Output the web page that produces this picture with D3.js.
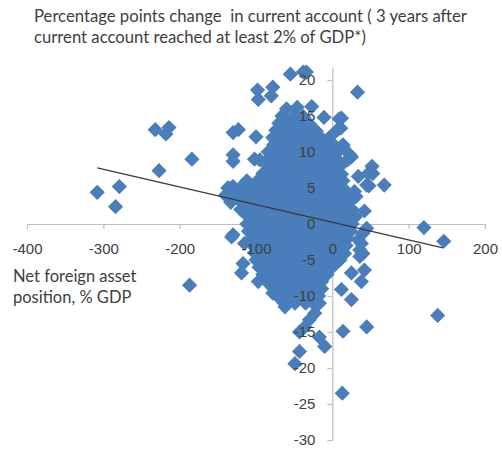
<!DOCTYPE html>
<html>
<head>
<meta charset="utf-8">
<script src="https://cdn.jsdelivr.net/npm/d3@7"></script>
<style>
  body { margin: 0; background: #fff; }
</style>
</head>
<body>
<div id="chart"></div>
<script>
const titleLines = [
  "Percentage points change  in current account ( 3 years after",
  "current account reached at least 2% of GDP*)"
];
const xTitleLines = ["Net foreign asset", "position, % GDP"];

const xTicks = [-400, -300, -200, -100, 0, 100, 200];
const yTicks = [20, 15, 10, 5, 0, -5, -10, -15, -20, -25, -30];

// scattered points around the main cloud: [net foreign assets, change in CA]
const outliers = [
  [-308, 4.4], [-279, 5.2], [-284, 2.4], [-232, 13.1], [-214, 13.4], [-218, 12.5],
  [-227, 7.4], [-184, 9.0], [-187, -8.5],
  [-130, 12.7], [-123, 13.1], [-130, 9.6], [-130, 8.7], [-100, 12.1],
  [-98, 18.6], [-97, 17.3], [-78, 19.0], [-80, 17.8], [-102, 9.0], [-95, 8.9], [-82, 7.5],
  [-55, 20.8], [-38, 21.1], [-34, 21.1], [33, 18.3],
  [-27, 16.3], [-11, 14.8], [9, 14.6], [6, 13.0], [14, 11.0], [12, 14.7], [11, 13.3],
  [14, 10.7], [25, 9.3], [23, 9.6], [20, 8.9], [52, 8.0], [53, 7.0], [47, 7.0], [34, 6.6],
  [48, 5.3], [45, 5.4], [68, 5.4], [29, 4.5], [31, 3.8], [27, 3.6], [42, 1.8],
  [120, -0.5], [146, -2.4],
  [40, -1.3], [38, -2.7], [40, -4.1], [34, -2.2], [36, -3.6], [36, -4.5], [45, -0.6],
  [16, -4.1], [10, -5.0], [25, -6.8], [42, -6.4], [38, -8.0], [12, -9.1], [25, -10.5],
  [138, -12.7], [14, -14.9], [45, -14.3], [13, -23.5],
  [-17, -11.0], [-23, -12.4], [-30, -13.3], [-36, -14.3], [-43, -15.0], [-17, -15.7],
  [-10, -17.0], [-43, -17.7], [-49, -19.4], [-67, -10.5], [-56, -10.5], [-62, -11.5],
  [-132, -1.8], [-117, -5.5], [-119, -6.8], [-97, -8.0], [-78, -9.6],
  [-130, 5.2], [-119, 5.2], [-113, 2.9], [-130, -1.5], [-115, -2.7]
];

// the dense core of the cloud, read row by row
const cluster = [
  [-60, 16], [-46, 16.2],
  [-66, 15], [-49, 15.1], [-38, 14.9],
  [-70, 14], [-56, 14.1], [-42, 14], [-30, 13.9],
  [-74, 13], [-63, 13], [-49, 13.1], [-35, 13], [-21, 12.9],
  [-78, 12], [-70, 12], [-56, 12.1], [-42, 12], [-28, 12], [-14, 11.9], [-4, 12],
  [-77, 11], [-63, 11], [-49, 11.1], [-35, 11], [-21, 11], [-7, 10.9], [2, 11],
  [-84, 10], [-70, 10], [-56, 10], [-42, 10.1], [-28, 10], [-14, 10], [0, 10], [6, 9.9],
  [-84, 9], [-77, 9], [-63, 9], [-49, 9.1], [-35, 9], [-21, 9], [-7, 9], [7, 8.9],
  [-84, 8], [-70, 8], [-56, 8], [-42, 8], [-28, 8.1], [-14, 8], [0, 8], [10, 8],
  [-91, 7], [-77, 7], [-63, 7], [-49, 7], [-35, 7], [-21, 7.1], [-7, 7], [7, 7], [12, 6.9],
  [-112, 6], [-98, 6], [-84, 6], [-70, 6.1], [-56, 6], [-42, 6], [-28, 6], [-14, 6], [0, 6], [14, 6],
  [-137, 5], [-133, 5], [-119, 5], [-105, 5], [-91, 5], [-77, 5], [-63, 5.1], [-49, 5],
  [-35, 5], [-21, 5], [-7, 5], [7, 5], [14, 5],
  [-140, 4], [-126, 4], [-112, 4], [-98, 4], [-84, 4.1], [-70, 4], [-56, 4], [-42, 4],
  [-28, 4], [-14, 4], [0, 4], [14, 4], [18, 4.1],
  [-133, 3], [-119, 3], [-105, 3], [-91, 3], [-77, 3], [-63, 3], [-49, 3.1], [-35, 3],
  [-21, 3], [-7, 3], [7, 3], [21, 3],
  [-120, 2], [-112, 2], [-98, 2], [-84, 2], [-70, 2], [-56, 2], [-42, 2.1], [-28, 2],
  [-14, 2], [0, 2], [14, 2], [26, 2],
  [-110, 1], [-105, 1], [-91, 1], [-77, 1], [-63, 1], [-49, 1], [-35, 1], [-21, 1.1],
  [-7, 1], [7, 1], [21, 1], [30, 1],
  [-112, 0], [-98, 0], [-84, 0], [-70, 0], [-56, 0.1], [-42, 0], [-28, 0], [-14, 0],
  [0, 0], [14, 0], [26, 0],
  [-110, -1], [-105, -1], [-91, -1], [-77, -1], [-63, -1], [-49, -1], [-35, -0.9],
  [-21, -1], [-7, -1], [7, -1], [21, -1], [24, -1],
  [-106, -2], [-98, -2], [-84, -2], [-70, -2], [-56, -2], [-42, -2], [-28, -2],
  [-14, -2.1], [0, -2], [14, -2], [20, -2],
  [-104, -3], [-91, -3], [-77, -3], [-63, -3], [-49, -3], [-35, -3], [-21, -3],
  [-7, -3], [7, -3], [18, -3],
  [-102, -4], [-98, -4], [-84, -4], [-70, -4], [-56, -4], [-42, -4], [-28, -4.1],
  [-14, -4], [0, -4], [12, -4],
  [-100, -5], [-91, -5], [-77, -5], [-63, -5], [-49, -5], [-35, -5], [-21, -5], [-7, -5], [6, -5],
  [-96, -6], [-84, -6], [-70, -6], [-56, -6], [-42, -6], [-28, -6], [-14, -6], [0, -6],
  [-91, -7], [-77, -7], [-63, -7], [-49, -7], [-35, -7], [-21, -7], [-7, -7],
  [-86, -8], [-70, -8], [-56, -8], [-42, -8], [-28, -8], [-14, -8],
  [-77, -9], [-63, -9], [-49, -9], [-35, -9], [-21, -9], [-14, -9],
  [-72, -10], [-56, -10], [-42, -10], [-28, -10], [-18, -10],
  [-63, -11], [-49, -11], [-35, -11], [-25, -11]
];

// linear trend line
const trendSlope = -0.0245;
const trendIntercept = 0.24;
const trendSpan = [-308, 145];

const width = 502;
const height = 450;
const textColor = "#404040";
const axisColor = "#bfbfbf";
const markColor = "#4a7ebb";
const r = 7.6;

const svg = d3
  .select("#chart")
  .append("svg")
  .attr("width", width)
  .attr("height", height)
  .style("font-family", "Lato, 'Open Sans', sans-serif");

const x = d3.scaleLinear().domain([-400, 200]).range([27, 485]);
const y = d3.scaleLinear().domain([-30, 21.8]).range([440, 67]);

// axis lines and ticks (below the markers)
svg
  .append("g")
  .attr("transform", `translate(0,${y(0)})`)
  .call(d3.axisBottom(x).tickValues(xTicks).tickSize(5).tickSizeOuter(0).tickFormat(""))
  .call((g) => g.selectAll("path,line").attr("stroke", axisColor).attr("stroke-width", 1.2));

svg
  .append("g")
  .attr("transform", `translate(${x(0)},0)`)
  .call(d3.axisLeft(y).tickValues(yTicks).tickSize(5).tickSizeOuter(0).tickFormat(""))
  .call((g) => g.selectAll("path,line").attr("stroke", axisColor).attr("stroke-width", 1.2));

const diamond = `M0,${-r}L${r},0L0,${r}L${-r},0Z`;

svg
  .append("g")
  .selectAll("path")
  .data(cluster.concat(outliers))
  .join("path")
  .attr("d", diamond)
  .attr("transform", (d) => `translate(${x(d[0])},${y(d[1])})`)
  .attr("fill", markColor);

svg
  .append("line")
  .attr("x1", x(trendSpan[0]))
  .attr("y1", y(trendIntercept + trendSlope * trendSpan[0]))
  .attr("x2", x(trendSpan[1]))
  .attr("y2", y(trendIntercept + trendSlope * trendSpan[1]))
  .attr("stroke", "#3a3a3a")
  .attr("stroke-width", 1.3);

// tick labels drawn over the markers, plain hyphen for negatives
const labelStyle = (g) => {
  g.select(".domain").remove();
  g.selectAll("line").remove();
  g.selectAll("text").attr("fill", textColor).style("font-size", "15px");
};

svg
  .append("g")
  .attr("transform", `translate(0,${y(0)})`)
  .call(d3.axisBottom(x).tickValues(xTicks).tickSize(5).tickPadding(14).tickFormat((d) => String(d)))
  .call(labelStyle);

svg
  .append("g")
  .attr("transform", `translate(${x(0)},0)`)
  .call(d3.axisLeft(y).tickValues(yTicks).tickSize(5).tickPadding(12).tickFormat((d) => String(d)))
  .call(labelStyle);

svg
  .append("g")
  .selectAll("text")
  .data(titleLines)
  .join("text")
  .attr("x", 34)
  .attr("y", (d, i) => 21.7 + i * 21.7)
  .attr("fill", textColor)
  .style("font-size", "16.7px")
  .style("white-space", "pre")
  .text((d) => d);

svg
  .append("g")
  .selectAll("text")
  .data(xTitleLines)
  .join("text")
  .attr("x", 13)
  .attr("y", (d, i) => 281.7 + i * 21)
  .attr("fill", textColor)
  .style("font-size", "16.5px")
  .text((d) => d);
</script>
</body>
</html>
